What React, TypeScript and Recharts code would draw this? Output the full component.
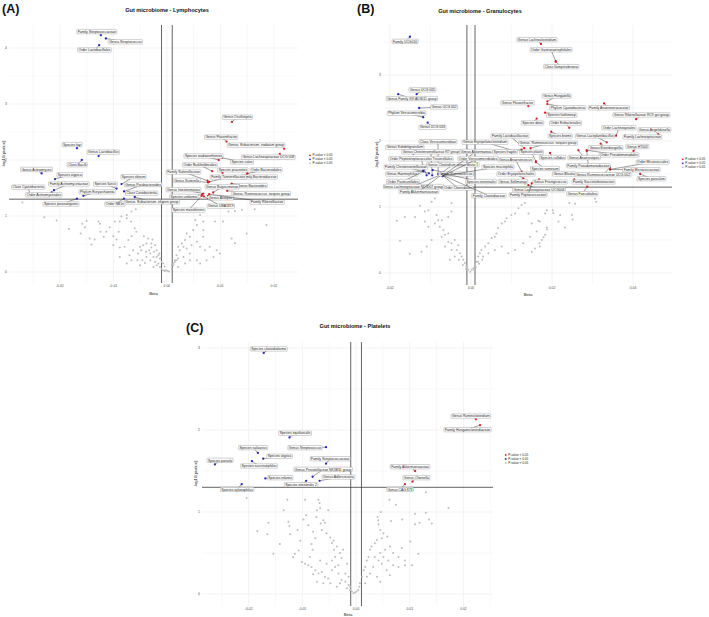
import React from "react";
import { ScatterChart, Scatter, XAxis, YAxis, ReferenceLine } from "recharts";

type Sig = [string, number, number];
type Nudge = [number, number];
type XY = [number, number];

const P_THRESHOLD = 0.05;
const BETA_BAND = 0.001;
const RED = "#e3262e";
const BLUE = "#2a28c4";
const GREY = "#bdbdbd";
const FONT = '"Liberation Sans", Arial, Helvetica, sans-serif';

// ---------------- Panel A : Lymphocytes ----------------
const A_BLUE: Sig[] = [
  ["Family Streptococcaceae", -0.01234, 4.23],
  ["Genus Streptococcus", -0.0114, 4.17],
  ["Order Lactobacillales", -0.01265, 4.05],
  ["Species fayi", -0.0168, 2.21],
  ["Genus Lactobacillus", -0.01277, 2.07],
  ["Class Bacilli", -0.0159, 2.0],
  ["Genus Actinomyces", -0.0234, 1.76],
  ["Species atypica", -0.0209, 1.66],
  ["Family Actinomycetaceae", -0.0211, 1.46],
  ["Class Cyanobacteria", -0.0255, 1.36],
  ["Order Actinomycetales", -0.0215, 1.42],
  ["Species parasanguinis", -0.0168, 1.31],
  ["Phylum Euryarchaeota", -0.0156, 1.36],
  ["Species faecis", -0.0094, 1.49],
  ["Species obeum", -0.00847, 1.57],
  ["Genus Parabacteroides", -0.008, 1.44],
  ["Class Coriobacteriia", -0.00753, 1.39],
  ["Genus. Eubacterium. eligens group", -0.006, 1.34],
  ["Order NB1n", -0.008, 1.31],
];
const A_BLUE_NUDGE: Nudge[] = [
  [-4, -3.5], [19.5, 3.3], [-4.8, 4.8], [-4.8, -3.7], [4.8, -4], [-4.5, 4.7], [-5.2, -4],
  [14.7, -4.3], [14.9, -6.3], [-2.2, -8.7], [-8, 2.3], [-16, 5.4], [13.7, -4], [-11.2, -4.4],
  [12, -7.3], [19, -7], [15, -1], [17.1, 5], [-9.2, 5.4],
];
const A_RED: Sig[] = [
  ["Genus Oscillospira", 0.01215, 2.68],
  ["Genus Flavonifractor", 0.01116, 2.33],
  ["Genus. Eubacterium. nodatum group", 0.0219, 2.2],
  ["Genus Lachnospiraceae UCG 008", 0.0211, 2.11],
  ["Species wadsworthensis", 0.0097, 2.0],
  ["Species catus", 0.0103, 2.04],
  ["Order Burkholderiales", 0.00847, 1.8],
  ["Species prausnitzii", 0.0104, 1.77],
  ["Order Bacteroidales", 0.01508, 1.76],
  ["Family Bacteroidaceae", 0.01495, 1.75],
  ["Family Tannerellaceae", 0.0079, 1.61],
  ["Family Sutterellaceae", 0.0076, 1.63],
  ["Genus Sutterella", 0.0077, 1.6],
  ["Genus Bacteroides", 0.0121, 1.58],
  ["Genus Butyricimonas", 0.00866, 1.42],
  ["Genus. Ruminococcus. torques group", 0.01127, 1.45],
  ["Genus Intestinimonas", 0.0068, 1.4],
  ["Species uniformis", 0.0066, 1.38],
  ["Genus Alistipes", 0.0077, 1.36],
  ["Family Rikenellaceae", 0.0079, 1.39],
  ["Genus UBA1819", 0.0069, 1.35],
  ["Species massiliensis", 0.0065, 1.36],
];
const A_RED_NUDGE: Nudge[] = [
  [5.5, -4.7], [-5.4, -4.4], [-28, -3.7], [-11.5, 3.3], [-15.3, -4], [20, 4.2], [-12.3, -6.3],
  [10.3, -3], [18.5, -3.6], [12.3, 3], [19, -4.7], [-24, -8.7], [-21.3, -2], [20.3, 2],
  [8.9, -5.7], [34, 2.7], [-19.8, -4], [-18.3, 1.7], [12.5, 2], [58, 8], [17, 9.7], [-13.3, 14.3],
];
const A_GREY: XY[] = [
  [-0.027, 1.24], [-0.0229, 0.98], [-0.0206, 0.92], [-0.0183, 0.77], [-0.0158, 0.86], [-0.0153, 0.8],
  [-0.015, 0.91], [-0.0161, 0.69], [-0.0144, 0.6], [-0.0135, 0.58], [-0.0128, 0.9], [-0.0125, 0.86],
  [-0.0141, 0.49], [-0.0124, 0.72], [-0.0113, 0.72], [-0.0107, 0.8], [-0.0097, 0.9], [-0.0118, 0.63],
  [-0.01, 0.64], [-0.0094, 0.58], [-0.01, 0.48], [-0.009, 0.72], [-0.0088, 0.9], [-0.0085, 0.99],
  [-0.0075, 0.96], [-0.0067, 0.9], [-0.0058, 1.12], [-0.0066, 1.08], [-0.0075, 1.02], [-0.006, 0.78],
  [-0.0057, 0.72], [-0.0066, 0.64], [-0.0072, 0.57], [-0.0079, 0.45], [-0.0088, 0.44], [-0.0088, 0.27],
  [-0.007, 0.3], [-0.0063, 0.39], [-0.0054, 0.33], [-0.005, 0.45], [-0.0048, 0.39], [-0.0044, 0.48],
  [-0.0038, 0.51], [-0.0035, 0.6], [-0.0043, 0.64], [-0.0029, 0.44], [-0.0031, 0.33], [-0.0038, 0.27],
  [-0.0046, 0.21], [-0.0055, 0.21], [-0.0066, 0.21], [-0.0075, 0.15], [-0.005, 0.12], [-0.0041, 0.16],
  [-0.0031, 0.21], [-0.0025, 0.27], [-0.0022, 0.18], [-0.0019, 0.12], [-0.0025, 0.09], [-0.0016, 0.15],
  [-0.0013, 0.09], [-0.001, 0.06], [-0.0007, 0.03], [-0.0004, 0.02], [-0.0002, 0.03], [0.0001, 0.02],
  [0.0004, 0.01], [0.0009, 0.06], [0.0012, 0.12], [0.0015, 0.18], [0.0018, 0.21], [-0.0027, 0.58],
  [-0.0019, 0.39], [-0.0016, 0.3], [-0.0024, 0.36], [-0.0033, 0.39], [-0.0039, 0.36], [-0.0029, 0.51],
  [-0.0022, 0.48], [-0.0019, 0.27], [-0.0013, 0.24], [-0.001, 0.18], [-0.0007, 0.15], [-0.0004, 0.1],
  [-0.0014, 0.33], [0.0062, 1.02], [0.0068, 0.9], [0.0056, 0.84], [0.0049, 0.75], [0.0037, 0.69],
  [0.0043, 0.63], [0.0034, 0.57], [0.0031, 0.45], [0.0024, 0.39], [0.0018, 0.3], [0.0015, 0.21],
  [0.0012, 0.15], [0.0068, 0.75], [0.0068, 0.63], [0.008, 0.45], [0.0093, 0.39], [0.0099, 0.33],
  [0.0087, 0.27], [0.0074, 0.21], [0.0062, 0.15], [0.0056, 0.21], [0.0043, 0.33], [0.0031, 0.27],
  [0.009, 0.9], [0.0105, 0.9], [0.0121, 0.6], [0.0127, 0.52], [0.0149, 0.69], [0.0186, 0.84],
  [0.0127, 1.09], [0.014, 1.11], [0.0164, 1.12], [0.0115, 1.08], [0.0053, 0.93], [0.0028, 0.51],
  [0.0021, 0.45], [0.0037, 0.42], [0.0046, 0.48], [0.0056, 0.54], [0.0062, 0.45], [0.0071, 0.39],
  [0.0021, 0.24], [0.0009, 0.12], [0.0043, 0.21], [0.0034, 0.15], [0.0021, 0.09],
];

// ---------------- Panel B : Granulocytes ----------------
const B_BLUE: Sig[] = [
  ["Family UCG010", -0.01506, 3.58],
  ["Genus UCG 005", -0.0134, 2.71],
  ["Genus Family XIII AD3011 group", -0.01795, 2.71],
  ["Genus UCG 002", -0.01277, 2.5],
  ["Phylum Verrucomicrobia", -0.01178, 2.36],
  ["Genus UCG 003", -0.01069, 2.28],
  ["Class Verrucomicrobiae", -0.00807, 1.5],
  ["Genus Subdoligranulum", -0.01425, 1.81],
  ["Genus Christensenellaceae R7 group", -0.00956, 1.48],
  ["Order Peptostreptococcales Tissierellales", -0.01094, 1.48],
  ["Family Christensenellaceae", -0.01037, 1.51],
  ["Genus Haemophilus", -0.01178, 1.55],
  ["Order Pasteurellales", -0.0117, 1.54],
  ["Genus Lachnospiraceae ND3007 group", -0.00783, 1.48],
  ["Family Akkermansiaceae", -0.00699, 1.5],
  ["Genus Clostridium sensu stricto 1", -0.00741, 1.51],
  ["Genus Ruminococcus", -0.00946, 1.56],
  ["Order Clostridiales", -0.0074, 1.5],
  ["Family Clostridiaceae", -0.0073, 1.49],
  ["Genus Akkermansia", -0.007, 1.47],
  ["Order Verrucomicrobiales", -0.007, 1.47],
  ["Species muciniphila", -0.007, 1.47],
  ["Species intestinalis", -0.0072, 1.51],
];
const B_BLUE_NUDGE: Nudge[] = [
  [-4.8, 4.6], [5.8, -4.3], [13.7, 4.4], [24.9, -1], [-16.6, -4], [4.8, 4.7], [-0.3, -32.3],
  [-8.3, -6.3], [-1.3, -23.5], [-5.7, -16.5], [-23, -6.3], [-21.3, 3.3], [-20.6, 10.1], [-26.3, 11.2],
  [-23.7, 17.5], [12, -8.6], [23.3, 4], [17, 14], [47.6, 21], [33.4, -24.5], [35.4, -17.5],
  [55.4, -9], [39.2, 8.2],
];
const B_RED: Sig[] = [
  ["Genus Lachnoclostridium", 0.01728, 3.47],
  ["Order Gastranaerophilales", 0.02091, 3.21],
  ["Class Vampirivibrionia", 0.0209, 3.2],
  ["Genus Hungatella", 0.01884, 2.6],
  ["Phylum Cyanobacteria", 0.01884, 2.56],
  ["Family Anaerovoracaceae", 0.03284, 2.57],
  ["Genus Rikenellaceae RC9 gut group", 0.04074, 2.33],
  ["Species hathewayi", 0.01827, 2.43],
  ["Genus Flavonifractor", 0.01415, 2.53],
  ["Species dorei", 0.01622, 2.34],
  ["Order Eubacteriales", 0.02427, 2.2],
  ["Order Lachnospirales", 0.0358, 2.08],
  ["Genus Angelakisella", 0.04625, 2.1],
  ["Family Lachnospiraceae", 0.038, 2.08],
  ["Genus Eisenbergiella", 0.032, 1.96],
  ["Genus HT002", 0.0401, 1.85],
  ["Order Pseudomonadales", 0.02857, 1.86],
  ["Order Micrococcales", 0.03432, 1.57],
  ["Family Micrococcaceae", 0.03432, 1.57],
  ["Family Pseudomonadaceae", 0.02857, 1.85],
  ["Species parvulum", 0.04173, 1.5],
  ["Genus Blautia", 0.0205, 1.5],
  ["Genus Faecalitalea", 0.0287, 1.31],
  ["Family Lactobacillaceae", 0.01316, 1.89],
  ["Genus Erysipelatoclostridium", 0.01069, 1.85],
  ["Genus. Ruminococcus. torques group", 0.0147, 1.89],
  ["Species plautii", 0.01605, 1.69],
  ["Species fragilis", 0.01252, 1.87],
  ["Genus Anaerotruncus", 0.01252, 1.535],
  ["Order Erysipelotrichales", 0.01291, 1.435],
  ["Genus Sellimonas", 0.01333, 1.36],
  ["Genus Lachnospiraceae UCG004", 0.01415, 1.33],
  ["Family Peptococcaceae", 0.015, 1.36],
  ["Species ramosum", 0.016, 1.68],
  ["Species bromii", 0.0198, 2.14],
  ["Genus Lactiplantibacillus", 0.0335, 1.98],
  ["Species callidus", 0.0195, 1.82],
  ["Genus Anaerostipes", 0.0265, 1.86],
  ["Genus Ruminococcaceae UCG 002", 0.0343, 1.6],
  ["Family Succinivibrionaceae", 0.0255, 1.42],
  ["Genus Frisingicoccus", 0.0168, 1.42],
];
const B_RED_NUDGE: Nudge[] = [
  [-4, -4.3], [-4.7, -11.3], [5.6, 4.8], [9.4, -5.4], [20.4, 3.7], [4.8, 4.4], [5.3, -4.3],
  [16.7, 2.6], [-10.8, -3.3], [-4.2, 4.4], [-3.8, -4.7], [2.8, -8], [-4, -4.6], [17.5, 1.3],
  [5.1, 4], [3.9, -4.4], [32.3, 4.7], [42.5, -7.3], [31.3, 0.4], [1.6, 14.8], [11.3, 4.7],
  [10, 0], [-5, 7.2], [-14.3, -12.3], [-29.3, -8.7], [17.5, -5], [-4.5, -9.2], [-16.7, 2.2],
  [-6.2, -12], [-7.3, -4.3], [-12, -1.8], [10.7, 4.5], [-3.7, 11.7], [9.2, 6.4], [9, 4.2],
  [-11.7, -6.3], [2.5, 4.6], [5.7, 7.3], [-6.9, 7.3], [19.2, 2.7], [11, 2.7],
];
const B_GREY: XY[] = [
  [-0.0183, 0.79], [-0.0175, 0.49], [-0.0151, 0.29], [-0.0138, 0.85], [-0.0126, 1.02], [-0.0097, 1.08],
  [-0.0089, 1.13], [-0.0114, 0.93], [-0.0085, 0.88], [-0.0081, 0.8], [-0.0077, 0.7], [-0.0068, 0.65],
  [-0.0064, 0.58], [-0.0056, 0.6], [-0.0048, 0.45], [-0.004, 0.5], [-0.0031, 0.42], [-0.0035, 0.35],
  [-0.0027, 0.3], [-0.0023, 0.25], [-0.0019, 0.2], [-0.0015, 0.15], [-0.0011, 0.1], [-0.0007, 0.05],
  [-0.0002, 0.02], [0.0002, 0.05], [0.0006, 0.07], [0.001, 0.12], [0.0014, 0.17], [0.0018, 0.25],
  [0.0022, 0.3], [0.0026, 0.35], [0.0035, 0.4], [0.0043, 0.45], [0.0051, 0.53], [0.0059, 0.55],
  [0.0063, 0.6], [0.0067, 0.68], [0.0076, 0.75], [0.0084, 0.78], [0.0088, 0.83], [0.01, 0.88],
  [0.0109, 0.9], [0.0117, 0.98], [0.0125, 1.03], [0.0133, 1.06], [0.0142, 0.9], [0.015, 0.75],
  [0.0146, 0.55], [0.0129, 0.45], [0.0109, 0.35], [0.0092, 0.3], [0.0076, 0.4], [0.0059, 0.35],
  [0.0043, 0.3], [0.003, 0.25], [0.0018, 0.17], [-0.004, 0.25], [-0.0052, 0.2], [-0.0048, 0.35],
  [-0.0064, 0.4], [-0.0056, 0.47], [-0.0072, 0.55], [-0.0097, 0.5], [-0.0109, 0.4], [-0.0122, 0.32],
  [-0.0114, 0.78], [-0.0105, 0.7], [-0.0089, 0.75], [-0.0072, 0.8], [-0.0056, 0.85], [-0.0048, 0.93],
  [-0.0163, 0.85], [-0.0105, 0.95], [-0.0048, 1.06], [0.0187, 0.95], [0.0183, 0.9], [0.0202, 0.95],
  [0.0203, 0.91], [0.0166, 0.79], [0.017, 0.78], [0.022, 0.88], [0.0216, 0.78], [0.0187, 0.69],
  [0.0188, 0.66], [0.0183, 0.58], [0.0179, 0.54], [0.0232, 0.69], [0.0249, 0.88], [0.0251, 0.81],
  [0.0175, 0.5], [0.0169, 0.45], [0.017, 0.4], [0.0158, 0.37], [0.0243, 1.06], [0.0257, 1.05],
  [0.0306, 1.13], [0.0309, 1.08], [0.0162, 0.63], [0.015, 0.32], [-0.0012, 0.06], [-0.0009, 0.08],
  [0.0008, 0.04], [0.0012, 0.09], [-0.002, 0.12], [0.002, 0.14], [-0.003, 0.2], [0.0028, 0.2],
];

// ---------------- Panel C : Platelets ----------------
const C_BLUE: Sig[] = [
  ["Species clostridioforme", -0.0172, 2.94],
  ["Species equifaecalis", -0.0124, 1.91],
  ["Genus Streptococcus", -0.0056, 1.79],
  ["Species salivarius", -0.0183, 1.72],
  ["Species atypica", -0.0173, 1.65],
  ["Family Streptococcaceae", -0.0056, 1.59],
  ["Species parvula", -0.0263, 1.58],
  ["Species succinatiphilus", -0.0194, 1.62],
  ["Genus Prevotellaceae NK3B31 group", -0.0081, 1.43],
  ["Genus Adlercreutzia", -0.0068, 1.38],
  ["Species infantis", -0.0169, 1.41],
  ["Species intestinalis 2", -0.0093, 1.38],
  ["Species xylanophilus", -0.0213, 1.34],
];
const C_BLUE_NUDGE: Nudge[] = [
  [5, -4], [5.6, -4.1], [-21, 0.5], [-4.7, -5.3], [16.4, -2.4], [4.1, -4.9], [5.2, -4.1],
  [7.2, 4.8], [10.5, -7.4], [18.8, -3.8], [14.8, -0.7], [-5.1, 3.9], [-4.6, 5.2],
];
const C_RED: Sig[] = [
  ["Genus Ruminiclostridium", 0.0223, 2.13],
  ["Family Hungateiclostridiaceae", 0.0231, 2.06],
  ["Family Akkermansiaceae", 0.011, 1.5],
  ["Genus Olsenella", 0.0105, 1.37],
  ["Genus CAG 873", 0.0091, 1.34],
];
const C_RED_NUDGE: Nudge[] = [
  [-5, -3.3], [-12.5, 4.6], [-5.1, -4.3], [3.9, -4], [-4.9, 5.2],
];
const C_GREY: XY[] = [
  [-0.0204, 1.17], [-0.0184, 0.77], [-0.0165, 0.73], [-0.0163, 0.87], [-0.0154, 0.49], [-0.0142, 0.61],
  [-0.0135, 1.02], [-0.0128, 1.15], [-0.0126, 0.88], [-0.0124, 0.83], [-0.0123, 0.73], [-0.0117, 0.45],
  [-0.0114, 0.49], [-0.0109, 0.78], [-0.0107, 0.53], [-0.0104, 0.65], [-0.0098, 0.91], [-0.0095, 1.15],
  [-0.0093, 0.96], [-0.0089, 0.84], [-0.0083, 0.61], [-0.0081, 0.54], [-0.008, 0.76], [-0.0076, 0.68],
  [-0.0074, 0.94], [-0.0073, 1.02], [-0.007, 1.15], [-0.0068, 1.11], [-0.0067, 1.05], [-0.0066, 0.86],
  [-0.0064, 0.78], [-0.0061, 0.9], [-0.0058, 0.87], [-0.0055, 0.74], [-0.0052, 1.02], [-0.0048, 0.69],
  [-0.0045, 0.62], [-0.0042, 0.65], [-0.0041, 0.54], [-0.0036, 0.58], [-0.003, 0.5], [-0.0027, 0.44],
  [-0.0024, 0.54], [-0.0101, 0.39], [-0.0095, 0.37], [-0.0089, 0.35], [-0.0083, 0.33], [-0.0076, 0.29],
  [-0.007, 0.25], [-0.0064, 0.27], [-0.0058, 0.21], [-0.0052, 0.19], [-0.0045, 0.29], [-0.0039, 0.33],
  [-0.0033, 0.25], [-0.0027, 0.17], [-0.002, 0.15], [-0.0014, 0.11], [-0.0011, 0.05], [-0.0008, 0.03],
  [-0.0005, 0.01], [-0.0002, 0.02], [-0.008, 0.24], [-0.0073, 0.15], [-0.0061, 0.13], [-0.0048, 0.13],
  [-0.0036, 0.09], [-0.003, 0.13], [-0.0086, 0.45], [-0.0067, 0.41], [-0.0055, 0.37], [-0.0045, 0.41],
  [-0.0039, 0.45], [-0.0033, 0.35], [-0.0017, 0.37], [-0.002, 0.25], [-0.0014, 0.21], [-0.0017, 0.07],
  [-0.0011, 0.09], [0.013, 1.24], [0.0062, 1.15], [0.0074, 1.09], [0.0172, 1.05], [0.0046, 1.0],
  [0.004, 0.94], [0.0041, 0.9], [0.0042, 0.85], [0.0045, 0.78], [0.0065, 0.89], [0.0086, 0.91],
  [0.011, 0.98], [0.013, 0.99], [0.0136, 0.91], [0.0141, 0.86], [0.0118, 0.87], [0.011, 0.85],
  [0.0051, 0.74], [0.0058, 0.7], [0.0048, 0.68], [0.0039, 0.66], [0.0035, 0.62], [0.0029, 0.58],
  [0.0026, 0.54], [0.0023, 0.45], [0.002, 0.41], [0.0017, 0.33], [0.0014, 0.29], [0.0011, 0.21],
  [0.0007, 0.13], [0.0006, 0.09], [0.0004, 0.05], [0.0001, 0.03], [0.0054, 0.54], [0.0063, 0.58],
  [0.0069, 0.5], [0.0079, 0.45], [0.0085, 0.56], [0.0091, 0.41], [0.0101, 0.64], [0.0116, 0.49],
  [0.0104, 0.35], [0.0091, 0.35], [0.0079, 0.33], [0.0069, 0.35], [0.0063, 0.23], [0.0057, 0.29],
  [0.0048, 0.37], [0.0042, 0.41], [0.0032, 0.33], [0.0026, 0.25], [0.002, 0.21], [0.0017, 0.13],
  [0.0035, 0.45], [0.0045, 0.5], [0.0051, 0.45], [0.006, 0.41], [0.0045, 0.15], [0.0039, 0.21],
];

// ---------------- helpers ----------------
const LBL_FS = 3.4;
const LBL_PAD = 1.0;
const LBL_H = 4.4;
let measureCtx: CanvasRenderingContext2D | null = null;
function textWidth(s: string, fs: number): number {
  if (!measureCtx) {
    const c = document.createElement("canvas");
    measureCtx = c.getContext("2d");
  }
  if (!measureCtx) return s.length * fs * 0.5;
  measureCtx.font = `${fs}px ${FONT}`;
  return measureCtx.measureText(s).width;
}

const dot = (fill: string, r: number) => (p: any) =>
  p.cx == null ? <g /> : <circle cx={p.cx} cy={p.cy} r={r} fill={fill} />;

const labelShape = (p: any) => {
  if (p.cx == null) return <g />;
  const d = p.payload;
  const lx = p.cx + d.dx;
  const ly = p.cy + d.dy;
  const w = textWidth(d.label, LBL_FS) + 2 * LBL_PAD;
  const far = Math.abs(d.dx) > w / 2 + 1.5 || Math.abs(d.dy) > LBL_H / 2 + 1.5;
  return (
    <g>
      {far && <line x1={p.cx} y1={p.cy} x2={lx} y2={ly} stroke="#2b2b2b" strokeWidth={0.45} />}
      <rect x={lx - w / 2} y={ly - LBL_H / 2} width={w} height={LBL_H} rx={0.7} fill="#ffffff" stroke="#8c8c8c" strokeWidth={0.4} />
      <text x={lx} y={ly + LBL_FS * 0.35} textAnchor="middle" fontSize={LBL_FS} fontFamily={FONT} fill="#1a1a1a">
        {d.label}
      </text>
    </g>
  );
};

type PanelProps = {
  left: number; top: number; w: number; h: number;
  xDomain: [number, number]; yDomain: [number, number];
  xTicks: number[]; yTicks: number[]; xGrid: number[]; yGrid: number[];
  grey: XY[]; blue: Sig[]; red: Sig[]; blueNudge: Nudge[]; redNudge: Nudge[];
};

function Panel(props: PanelProps) {
  const YW = 20, XH = 16, MT = 4, MR = 2;
  const width = props.w + YW + MR;
  const height = props.h + MT + XH;
  const greyData = props.grey.map(([x, y]) => ({ x, y }));
  const blueData = props.blue.map(([label, x, y], i) => ({ label, x, y, dx: props.blueNudge[i][0], dy: props.blueNudge[i][1] }));
  const redData = props.red.map(([label, x, y], i) => ({ label, x, y, dx: props.redNudge[i][0], dy: props.redNudge[i][1] }));
  const tickStyle = { fontSize: 3.4, fill: "#4d4d4d", fontFamily: FONT };
  return (
    <div style={{ position: "absolute", left: props.left - YW, top: props.top - MT }}>
      <ScatterChart width={width} height={height} margin={{ top: MT, right: MR, bottom: 0, left: 0 }}>
        <XAxis type="number" dataKey="x" domain={props.xDomain} ticks={props.xTicks} allowDataOverflow
          height={XH} tickLine={false} axisLine={false} tickSize={2} tickMargin={0} interval={0}
          tick={tickStyle} tickFormatter={(v: number) => v.toFixed(2)} />
        <YAxis type="number" dataKey="y" domain={props.yDomain} ticks={props.yTicks} allowDataOverflow
          width={YW} tickLine={false} axisLine={false} tickSize={2} tickMargin={0} interval={0}
          tick={tickStyle} tickFormatter={(v: number) => String(v)} />
        {props.xGrid.map((v) => (
          <ReferenceLine key={"gx" + v} x={v} stroke="#ebebeb" strokeWidth={props.xTicks.some((t) => Math.abs(t - v) < 1e-9) ? 0.6 : 0.35} />
        ))}
        {props.yGrid.map((v) => (
          <ReferenceLine key={"gy" + v} y={v} stroke="#ebebeb" strokeWidth={props.yTicks.includes(v) ? 0.6 : 0.35} />
        ))}
        <Scatter data={greyData} isAnimationActive={false} shape={dot(GREY, 1.0)} />
        <ReferenceLine y={-Math.log10(P_THRESHOLD)} stroke="#3c3c3c" strokeWidth={0.8} />
        <ReferenceLine x={-BETA_BAND} stroke="#3c3c3c" strokeWidth={0.8} />
        <ReferenceLine x={BETA_BAND} stroke="#3c3c3c" strokeWidth={0.8} />
        <Scatter data={blueData} isAnimationActive={false} shape={dot(BLUE, 1.15)} />
        <Scatter data={redData} isAnimationActive={false} shape={dot(RED, 1.15)} />
        <Scatter data={[...blueData, ...redData]} isAnimationActive={false} shape={labelShape} />
      </ScatterChart>
    </div>
  );
}

function Legend({ x, y }: { x: number; y: number }) {
  const rows: [string, string][] = [[RED, "P-value < 0.05"], [BLUE, "P-value < 0.05"], [GREY, "P-value > 0.05"]];
  return (
    <g>
      {rows.map(([c, t], i) => (
        <g key={i}>
          <circle cx={x} cy={y + i * 4} r={0.9} fill={c} />
          <text x={x + 2.5} y={y + i * 4 + 1.1} fontSize={3.1} fontFamily={FONT} fill="#222">{t}</text>
        </g>
      ))}
    </g>
  );
}

function Overlay() {
  const tag = { fontSize: 12.5, fontWeight: 700, fontFamily: FONT, fill: "#111" } as const;
  const ttl = { fontSize: 5.6, fontWeight: 700, fontFamily: FONT, fill: "#111", textAnchor: "middle" } as const;
  const ax = { fontSize: 4.2, fontFamily: FONT, fill: "#222", textAnchor: "middle" } as const;
  return (
    <svg width={709} height={617} style={{ position: "absolute", left: 0, top: 0, pointerEvents: "none" }}>
      <text x={2} y={13} {...tag}>(A)</text>
      <text x={167} y={11.5} {...ttl}>Gut microbiome - Lymphocytes</text>
      <text x={153.5} y={295} {...ax}>Beta</text>
      <text transform="translate(4.5,154) rotate(-90)" {...ax}>-log10(pvalue)</text>
      <Legend x={310} y={155.3} />

      <text x={357} y={13} {...tag}>(B)</text>
      <text x={480} y={13.3} {...ttl}>Gut microbiome - Granulocytes</text>
      <text x={528} y={295.5} {...ax}>Beta</text>
      <text transform="translate(377.5,155) rotate(-90)" {...ax}>-log10(pvalue)</text>
      <Legend x={682.7} y={159.3} />

      <text x={186} y={332} {...tag}>(C)</text>
      <text x={355} y={327.5} {...ttl}>Gut microbiome - Platelets</text>
      <text x={348} y={615.5} {...ax}>Beta</text>
      <text transform="translate(196.5,474) rotate(-90)" {...ax}>-log10(pvalue)</text>
      <Legend x={505.7} y={455} />
    </svg>
  );
}

function range(a: number, b: number, s: number): number[] {
  const out: number[] = [];
  for (let v = a; v <= b + 1e-9; v += s) out.push(Math.round(v * 10000) / 10000);
  return out;
}

export default function App() {
  return (
    <div style={{ position: "absolute", left: 0, top: 0, width: 709, height: 617, background: "#fff", overflow: "hidden" }}>
      <Panel left={9} top={25} w={289} h={258} xDomain={[-0.0295, 0.0245]} yDomain={[-0.196, 4.411]}
        xTicks={[-0.02, -0.01, 0, 0.01, 0.02]} yTicks={[0, 1, 2, 3, 4]}
        xGrid={range(-0.025, 0.02, 0.005)} yGrid={range(0, 4, 0.5)}
        grey={A_GREY} blue={A_BLUE} red={A_RED} blueNudge={A_BLUE_NUDGE} redNudge={A_RED_NUDGE} />
      <Panel left={383} top={25} w={289} h={260} xDomain={[-0.0217, 0.0496]} yDomain={[-0.182, 3.758]}
        xTicks={[-0.02, 0, 0.02, 0.04]} yTicks={[0, 1, 2, 3]}
        xGrid={range(-0.02, 0.04, 0.01)} yGrid={range(0, 3.5, 0.5)}
        grey={B_GREY} blue={B_BLUE} red={B_RED} blueNudge={B_BLUE_NUDGE} redNudge={B_RED_NUDGE} />
      <Panel left={202} top={342} w={291} h={264} xDomain={[-0.0287, 0.0255]} yDomain={[-0.146, 3.073]}
        xTicks={[-0.02, -0.01, 0, 0.01, 0.02]} yTicks={[0, 1, 2, 3]}
        xGrid={range(-0.025, 0.025, 0.005)} yGrid={range(0, 3, 0.5)}
        grey={C_GREY} blue={C_BLUE} red={C_RED} blueNudge={C_BLUE_NUDGE} redNudge={C_RED_NUDGE} />
      <Overlay />
    </div>
  );
}
